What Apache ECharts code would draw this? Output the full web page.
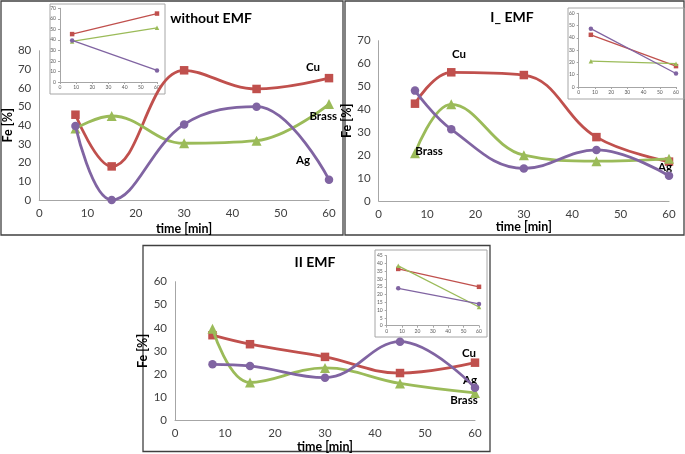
<!DOCTYPE html>
<html><head><meta charset="utf-8">
<script src="https://cdn.jsdelivr.net/npm/echarts@6/dist/echarts.min.js"></script>
<style>html,body{margin:0;padding:0;background:#fff}#c{width:685px;height:454px}</style>
</head><body><div id="c"></div>
<script>
// ---- data ----
const times = [7.5, 15, 30, 45, 60];
const insetTimes = [7.5, 60];
const seriesNames = ['Cu', 'Brass', 'Ag'];
const panelTitles = ['without EMF', 'I_ EMF', 'II EMF'];

const p1Cu = [45.7, 18, 69.5, 59.5, 65.3];
const p1Brass = [38.3, 45, 30.4, 31.8, 51.4];
const p1Ag = [39.6, 0, 40.5, 50, 10.9];
const p1InsetCu = [45.5, 65];
const p1InsetBrass = [38.5, 51.5];
const p1InsetAg = [39.5, 11];

const p2Cu = [42.5, 56.2, 55, 27.9, 17.2];
const p2Brass = [20.9, 42.2, 20, 17.4, 18.4];
const p2Ag = [48.2, 31.3, 14.2, 22.3, 11];
const p2InsetCu = [42.5, 17];
const p2InsetBrass = [21, 19];
const p2InsetAg = [47.5, 11];

const p3Cu = [36.8, 32.9, 27.4, 20.4, 24.9];
const p3Brass = [39.6, 16.3, 22.6, 15.9, 11.8];
const p3Ag = [24.2, 23.5, 18.4, 34, 14];
const p3InsetCu = [36.5, 25];
const p3InsetBrass = [38.5, 12];
const p3InsetAg = [24, 14];

// label anchor positions in data coordinates [time, Fe]
const p1LabelPos = [[56.7, 71.3], [58.8, 45], [54.6, 21.4]];
const p2LabelPos = [[16.6, 64.2], [10.4, 21.8], [59.2, 14.8]];
const p3LabelPos = [[58.8, 29.1], [57.8, 8.4], [59, 17.3]];

// ---- styling ----
const colors = ['#C0504D', '#9BBB59', '#8064A2'];
const symbols = ['rect', 'triangle', 'circle'];
const FONT = 'Lato, "Liberation Sans", sans-serif';

const panels = [
  { data: [p1Cu, p1Brass, p1Ag], inset: [p1InsetCu, p1InsetBrass, p1InsetAg], labels: p1LabelPos,
    grid: {left: 38, top: 50.7, width: 291, height: 149.3}, yMax: 80, nameGapY: 24, nameGapX: 22,
    insetGrid: {left: 60, top: 8.3, width: 97, height: 73.7}, insetMax: 70, insetInt: 10 },
  { data: [p2Cu, p2Brass, p2Ag], inset: [p2InsetCu, p2InsetBrass, p2InsetAg], labels: p2LabelPos,
    grid: {left: 378.7, top: 40.7, width: 290.3, height: 160.3}, yMax: 70, nameGapY: 23, nameGapX: 17,
    insetGrid: {left: 578.7, top: 13.3, width: 97.3, height: 73.7}, insetMax: 60, insetInt: 10 },
  { data: [p3Cu, p3Brass, p3Ag], inset: [p3InsetCu, p3InsetBrass, p3InsetAg], labels: p3LabelPos,
    grid: {left: 175, top: 281.7, width: 300, height: 142.3}, yMax: 60, nameGapY: 22, nameGapX: 14,
    insetGrid: {left: 386.7, top: 255.7, width: 92.3, height: 70}, insetMax: 45, insetInt: 5 }
];

const grid = [], xAxis = [], yAxis = [], series = [];
const axisLine = {show: true, lineStyle: {color: '#a6a6a6', width: 1}};
const tickFont = {fontSize: 11.5, color: '#404040', fontFamily: FONT};
const nameFont = {fontSize: 12.5, fontWeight: 'bold', color: '#000', fontFamily: FONT};

panels.forEach((p, pi) => {
  const gi = grid.length;
  grid.push(Object.assign({containLabel: false}, p.grid));
  xAxis.push({gridIndex: gi, type: 'value', min: 0, max: 60, interval: 10,
    axisLine: axisLine, axisTick: {show: false}, splitLine: {show: false},
    axisLabel: Object.assign({margin: 7}, tickFont),
    name: 'time [min]', nameLocation: 'middle', nameGap: p.nameGapX, nameTextStyle: nameFont});
  yAxis.push({gridIndex: gi, type: 'value', min: 0, max: p.yMax, interval: 10,
    axisLine: axisLine, axisTick: {show: false}, splitLine: {show: false},
    axisLabel: Object.assign({margin: 8}, tickFont),
    name: 'Fe [%]', nameLocation: 'middle', nameGap: p.nameGapY, nameRotate: 90, nameTextStyle: nameFont});
  p.data.forEach((vals, si) => {
    series.push({
      type: 'line', name: seriesNames[si], xAxisIndex: gi, yAxisIndex: gi,
      data: times.map((t, i) => [t, vals[i]]),
      smooth: 0.4, symbol: symbols[si], symbolSize: si === 1 ? 10 : 8.5,
      lineStyle: {color: colors[si], width: 2.8}, itemStyle: {color: colors[si]},
      z: 3 + si, clip: false,
      markPoint: {
        symbol: 'circle', symbolSize: 1, itemStyle: {color: 'rgba(0,0,0,0)'},
        label: {show: true, position: 'inside', formatter: seriesNames[si], fontSize: 11.5,
          fontWeight: 'bold', color: '#000', fontFamily: FONT},
        data: [{coord: p.labels[si]}]
      }
    });
  });
  const ii = grid.length;
  grid.push(Object.assign({containLabel: false}, p.insetGrid));
  xAxis.push({gridIndex: ii, type: 'value', min: 0, max: 60, interval: 10,
    axisLine: axisLine, axisTick: {show: true, length: 2, lineStyle: {color: '#a6a6a6'}}, splitLine: {show: false},
    axisLabel: {fontSize: 5, color: '#595959', fontFamily: FONT, margin: 3}});
  yAxis.push({gridIndex: ii, type: 'value', min: 0, max: p.insetMax, interval: p.insetInt,
    axisLine: axisLine, axisTick: {show: true, length: 2, lineStyle: {color: '#a6a6a6'}}, splitLine: {show: false},
    axisLabel: {fontSize: 5, color: '#595959', fontFamily: FONT, margin: 4}});
  p.inset.forEach((vals, si) => {
    series.push({
      type: 'line', xAxisIndex: ii, yAxisIndex: ii,
      data: insetTimes.map((t, i) => [t, vals[i]]),
      symbol: symbols[si], symbolSize: 4.5,
      lineStyle: {color: colors[si], width: 1.3}, itemStyle: {color: colors[si]},
      z: 20 + si
    });
  });
});

const graphic = [
  {type: 'rect', shape: {x: 1, y: 1, width: 342, height: 234}, style: {fill: 'none', stroke: '#404040', lineWidth: 1.3}},
  {type: 'rect', shape: {x: 345, y: 1, width: 339, height: 234}, style: {fill: 'none', stroke: '#404040', lineWidth: 1.3}},
  {type: 'rect', shape: {x: 143, y: 245.5, width: 347, height: 206}, style: {fill: 'none', stroke: '#404040', lineWidth: 1.3}},
  {type: 'rect', shape: {x: 50, y: 4, width: 115, height: 90}, style: {fill: 'none', stroke: '#a6a6a6', lineWidth: 1}},
  {type: 'rect', shape: {x: 568, y: 8, width: 116, height: 91}, style: {fill: 'none', stroke: '#a6a6a6', lineWidth: 1}},
  {type: 'rect', shape: {x: 375, y: 250, width: 112, height: 87}, style: {fill: 'none', stroke: '#a6a6a6', lineWidth: 1}},
  {type: 'text', x: 211, y: 18, style: {text: panelTitles[0], font: 'bold 14px ' + FONT, fill: '#000', textAlign: 'center', textVerticalAlign: 'middle'}},
  {type: 'text', x: 512, y: 17, style: {text: panelTitles[1], font: 'bold 14px ' + FONT, fill: '#000', textAlign: 'center', textVerticalAlign: 'middle'}},
  {type: 'text', x: 315, y: 262, style: {text: panelTitles[2], font: 'bold 14px ' + FONT, fill: '#000', textAlign: 'center', textVerticalAlign: 'middle'}}
];

const chart = echarts.init(document.getElementById('c'), null, {renderer: 'canvas'});
chart.setOption({animation: false, backgroundColor: '#fff', grid, xAxis, yAxis, series, graphic});
</script>
</body></html>
